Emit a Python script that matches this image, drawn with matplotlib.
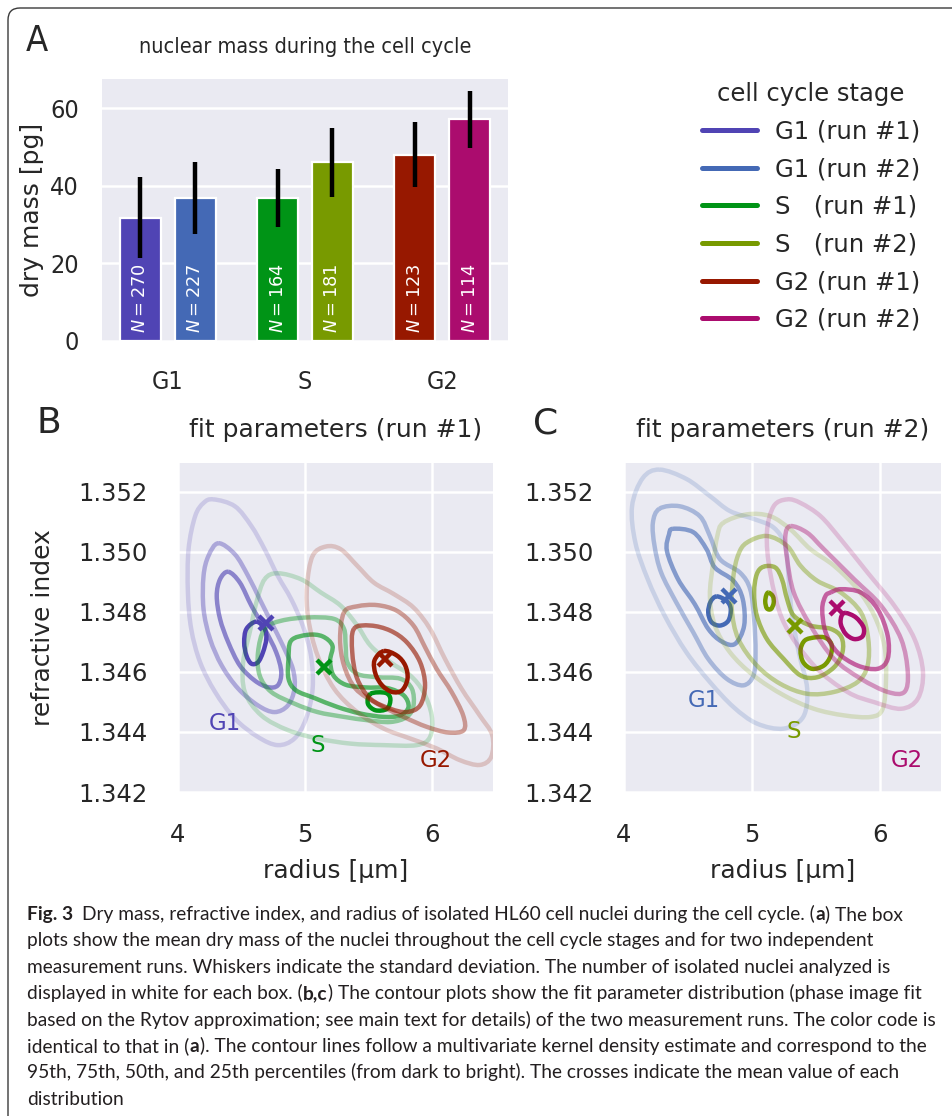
import matplotlib
matplotlib.use('Agg')
import matplotlib.pyplot as plt
import numpy as np
from matplotlib.patches import FancyBboxPatch, PathPatch
from matplotlib.path import Path
from matplotlib.transforms import IdentityTransform
from matplotlib.lines import Line2D
from matplotlib.ticker import FormatStrFormatter
from matplotlib import font_manager

# ---------------- data ----------------
stages = ['G1', 'S', 'G2']
legend_labels = ['G1 (run #1)', 'G1 (run #2)', 'S   (run #1)',
                 'S   (run #2)', 'G2 (run #1)', 'G2 (run #2)']
mass_run1 = [31.8, 36.8, 48.0]
mass_run2 = [36.9, 46.1, 57.1]
sd_run1 = [10.5, 7.5, 8.3]
sd_run2 = [9.3, 8.9, 7.3]
n_run1 = [270, 164, 123]
n_run2 = [227, 181, 114]
colors_run1 = ['#5044b4', '#009416', '#971800']
colors_run2 = ['#4469b5', '#789a00', '#ab0c6e']

mean_radius_run1 = [4.69, 5.15, 5.63]
mean_ri_run1 = [1.34762, 1.34615, 1.34643]
mean_radius_run2 = [4.82, 5.34, 5.67]
mean_ri_run2 = [1.34853, 1.34754, 1.34814]

# contour lines (radius [um], refractive index), level 1 = outermost
run1_G1_lvl1 = [(4.279,1.35174),(4.448,1.35151),(4.578,1.35085),(4.682,1.35008),(4.786,1.34919),(4.891,1.34842),(4.982,1.34754),(5.047,1.34654),(5.060,1.34544),(5.008,1.34444),(4.917,1.34378),(4.786,1.34356),(4.630,1.34383),(4.448,1.34444),(4.292,1.34533),(4.174,1.34632),(4.104,1.34743),(4.078,1.34864),(4.083,1.35008),(4.135,1.35118),(4.201,1.35162)]
run1_G1_lvl2 = [(4.318,1.35028),(4.448,1.34991),(4.552,1.34919),(4.643,1.34842),(4.734,1.34765),(4.826,1.34687),(4.904,1.34610),(4.917,1.34544),(4.865,1.34488),(4.760,1.34466),(4.630,1.34488),(4.474,1.34544),(4.344,1.34621),(4.253,1.34709),(4.201,1.34809),(4.201,1.34919),(4.240,1.34986)]
run1_G1_lvl3 = [(4.396,1.34933),(4.487,1.34897),(4.578,1.34820),(4.682,1.34743),(4.773,1.34665),(4.813,1.34599),(4.786,1.34555),(4.708,1.34549),(4.604,1.34571),(4.487,1.34621),(4.396,1.34698),(4.331,1.34776),(4.305,1.34853),(4.331,1.34908)]
run1_G1_lvl4 = [(4.617,1.34767),(4.682,1.34743),(4.695,1.34709),(4.669,1.34665),(4.630,1.34632),(4.578,1.34627),(4.539,1.34654),(4.521,1.34698),(4.539,1.34743)]

run1_S_lvl1 = [(4.682,1.34908),(4.786,1.34928),(4.969,1.34908),(5.125,1.34864),(5.281,1.34820),(5.411,1.34754),(5.516,1.34687),(5.672,1.34632),(5.828,1.34588),(5.932,1.34533),(5.997,1.34455),(5.984,1.34383),(5.880,1.34356),(5.620,1.34356),(5.359,1.34361),(5.099,1.34378),(4.865,1.34406),(4.656,1.34455),(4.526,1.34533),(4.513,1.34632),(4.565,1.34732),(4.617,1.34831)]
run1_S_lvl2 = [(4.682,1.34743),(4.813,1.34770),(5.021,1.34781),(5.229,1.34776),(5.307,1.34743),(5.320,1.34687),(5.333,1.34632),(5.411,1.34593),(5.568,1.34582),(5.750,1.34577),(5.841,1.34544),(5.854,1.34488),(5.802,1.34450),(5.672,1.34433),(5.490,1.34439),(5.307,1.34450),(5.099,1.34466),(4.917,1.34494),(4.734,1.34533),(4.643,1.34588),(4.630,1.34665)]
run1_S_lvl3 = [(4.891,1.34704),(5.021,1.34723),(5.138,1.34718),(5.216,1.34687),(5.198,1.34638),(5.224,1.34588),(5.320,1.34557),(5.477,1.34548),(5.646,1.34546),(5.776,1.34522),(5.815,1.34483),(5.750,1.34455),(5.620,1.34450),(5.438,1.34461),(5.255,1.34483),(5.073,1.34513),(4.930,1.34538),(4.870,1.34577),(4.870,1.34643)]
run1_S_lvl4 = [(5.516,1.34527),(5.633,1.34530),(5.672,1.34510),(5.646,1.34477),(5.555,1.34472),(5.495,1.34494)]

run1_G2_lvl1 = [(5.060,1.34986),(5.164,1.35017),(5.281,1.35008),(5.411,1.34953),(5.542,1.34897),(5.698,1.34859),(5.854,1.34814),(5.984,1.34743),(6.102,1.34643),(6.232,1.34544),(6.375,1.34455),(6.474,1.34389),(6.466,1.34317),(6.375,1.34290),(6.219,1.34306),(6.036,1.34345),(5.828,1.34378),(5.620,1.34411),(5.411,1.34466),(5.229,1.34544),(5.099,1.34654),(5.026,1.34776),(5.016,1.34886)]
run1_G2_lvl2 = [(5.307,1.34798),(5.411,1.34818),(5.568,1.34822),(5.724,1.34803),(5.854,1.34754),(5.945,1.34682),(6.036,1.34610),(6.154,1.34533),(6.245,1.34455),(6.250,1.34406),(6.128,1.34398),(5.958,1.34417),(5.776,1.34450),(5.568,1.34494),(5.398,1.34544),(5.307,1.34621),(5.276,1.34709)]
run1_G2_lvl3 = [(5.385,1.34743),(5.516,1.34754),(5.672,1.34737),(5.802,1.34698),(5.906,1.34632),(5.945,1.34555),(5.906,1.34488),(5.802,1.34466),(5.672,1.34477),(5.516,1.34510),(5.411,1.34577),(5.372,1.34665)]
run1_G2_lvl4 = [(5.620,1.34669),(5.724,1.34654),(5.789,1.34621),(5.807,1.34577),(5.763,1.34538),(5.685,1.34533),(5.607,1.34555),(5.555,1.34593),(5.547,1.34638)]

run2_G1_lvl1 = [(4.278,1.35273),(4.488,1.35242),(4.672,1.35185),(4.829,1.35135),(5.013,1.35109),(5.171,1.35080),(5.262,1.35019),(5.289,1.34908),(5.315,1.34787),(5.367,1.34665),(5.433,1.34544),(5.402,1.34450),(5.249,1.34411),(5.039,1.34428),(4.856,1.34483),(4.672,1.34566),(4.488,1.34665),(4.318,1.34787),(4.186,1.34908),(4.089,1.35030),(4.063,1.35151),(4.147,1.35245)]
run2_G1_lvl2 = [(4.278,1.35143),(4.436,1.35151),(4.593,1.35118),(4.672,1.35052),(4.751,1.34975),(4.908,1.34930),(4.987,1.34875),(5.018,1.34776),(5.029,1.34665),(5.013,1.34588),(4.934,1.34555),(4.803,1.34577),(4.659,1.34643),(4.541,1.34732),(4.409,1.34831),(4.291,1.34930),(4.239,1.35019),(4.226,1.35096)]
run2_G1_lvl3 = [(4.383,1.35076),(4.541,1.35065),(4.646,1.35008),(4.711,1.34947),(4.856,1.34903),(4.929,1.34842),(4.940,1.34754),(4.869,1.34693),(4.764,1.34701),(4.659,1.34743),(4.554,1.34825),(4.423,1.34908),(4.336,1.35002),(4.352,1.35057)]
run2_G1_lvl4 = [(4.724,1.34851),(4.803,1.34836),(4.835,1.34809),(4.816,1.34770),(4.751,1.34754),(4.685,1.34765),(4.659,1.34798),(4.677,1.34833)]

run2_S_lvl1 = [(4.777,1.35096),(4.961,1.35124),(5.144,1.35118),(5.302,1.35074),(5.459,1.35008),(5.643,1.34953),(5.827,1.34875),(5.958,1.34787),(6.037,1.34687),(6.050,1.34577),(6.024,1.34477),(5.932,1.34450),(5.722,1.34455),(5.486,1.34477),(5.249,1.34522),(5.013,1.34588),(4.829,1.34665),(4.711,1.34754),(4.672,1.34853),(4.698,1.34964),(4.730,1.35052)]
run2_S_lvl2 = [(4.961,1.35030),(5.118,1.35052),(5.276,1.35019),(5.381,1.34953),(5.512,1.34903),(5.696,1.34864),(5.853,1.34798),(5.911,1.34709),(5.906,1.34621),(5.827,1.34566),(5.643,1.34533),(5.433,1.34527),(5.223,1.34560),(5.039,1.34621),(4.895,1.34709),(4.843,1.34809),(4.856,1.34919),(4.895,1.34991)]
run2_S_lvl3 = [(5.092,1.34950),(5.184,1.34947),(5.236,1.34908),(5.276,1.34842),(5.328,1.34787),(5.459,1.34754),(5.617,1.34743),(5.701,1.34715),(5.709,1.34665),(5.643,1.34615),(5.512,1.34582),(5.381,1.34588),(5.249,1.34643),(5.118,1.34709),(5.039,1.34787),(5.018,1.34864),(5.039,1.34925)]
run2_S_lvl4a = [(5.131,1.34864),(5.165,1.34851),(5.171,1.34829),(5.150,1.34809),(5.118,1.34811),(5.105,1.34833),(5.113,1.34855)]
run2_S_lvl4b = [(5.459,1.34712),(5.564,1.34715),(5.622,1.34693),(5.617,1.34654),(5.564,1.34621),(5.472,1.34610),(5.402,1.34632),(5.381,1.34671),(5.407,1.34701)]

run2_G2_lvl1 = [(5.276,1.35174),(5.381,1.35162),(5.538,1.35118),(5.696,1.35041),(5.906,1.34930),(6.115,1.34820),(6.273,1.34709),(6.339,1.34599),(6.299,1.34511),(6.168,1.34477),(5.958,1.34499),(5.748,1.34533),(5.486,1.34621),(5.249,1.34765),(5.144,1.34930),(5.118,1.35063),(5.171,1.35151)]
run2_G2_lvl2 = [(5.302,1.35085),(5.433,1.35063),(5.564,1.35008),(5.801,1.34908),(6.011,1.34820),(6.168,1.34709),(6.220,1.34599),(6.194,1.34533),(6.063,1.34533),(5.853,1.34577),(5.643,1.34643),(5.459,1.34754),(5.328,1.34864),(5.276,1.34975),(5.262,1.35052)]
run2_G2_lvl3 = [(5.617,1.34864),(5.696,1.34875),(5.853,1.34864),(5.984,1.34809),(6.063,1.34720),(6.063,1.34643),(5.984,1.34610),(5.827,1.34621),(5.669,1.34665),(5.577,1.34732),(5.551,1.34809),(5.577,1.34853)]
run2_G2_lvl4 = [(5.735,1.34796),(5.814,1.34781),(5.874,1.34748),(5.866,1.34718),(5.801,1.34709),(5.735,1.34726),(5.696,1.34759),(5.703,1.34787)]

caption_lines = [
    [("Fig. 3", True), ("Dry mass, refractive index, and radius of isolated HL60 cell nuclei during the cell cycle. (", False), ("a", True), (") The box", False)],
    [("plots show the mean dry mass of the nuclei throughout the cell cycle stages and for two independent", False)],
    [("measurement runs. Whiskers indicate the standard deviation. The number of isolated nuclei analyzed is", False)],
    [("displayed in white for each box. (", False), ("b,c", True), (") The contour plots show the fit parameter distribution (phase image fit", False)],
    [("based on the Rytov approximation; see main text for details) of the two measurement runs. The color code is", False)],
    [("identical to that in (", False), ("a", True), ("). The contour lines follow a multivariate kernel density estimate and correspond to the", False)],
    [("95th, 75th, 50th, and 25th percentiles (from dark to bright). The crosses indicate the mean value of each", False)],
    [("distribution", False)],
]

# ---------------- figure ----------------
plt.rcParams['font.family'] = ['DejaVu Sans']
TXT = '#262626'
BG = '#eaeaf2'
W, H = 953, 1116
fig = plt.figure(figsize=(W / 100, H / 100), dpi=100)
fig.patch.set_facecolor('white')

ttf = font_manager.fontManager.ttflist


def condensed_of(name):
    for f in ttf:
        if f.name == name and str(f.stretch) in ('condensed', 'semi-condensed') \
                and f.style == 'normal':
            return str(f.stretch)
    return None


def box(l, t, r, b):
    return [l / W, 1 - b / H, (r - l) / W, (b - t) / H]


def style(ax):
    ax.set_facecolor(BG)
    for s in ax.spines.values():
        s.set_visible(False)
    ax.set_axisbelow(True)


# ----- panel A (horizontal texts are narrow in the reference) -----
A_STRETCH = condensed_of('DejaVu Sans') or 'normal'
axA = fig.add_axes(box(102, 79, 508, 341))
style(axA)
x = np.arange(len(stages))
off, bw = 0.2, 0.3
for xs, means, sds, ns, cols in [(x - off, mass_run1, sd_run1, n_run1, colors_run1),
                                  (x + off, mass_run2, sd_run2, n_run2, colors_run2)]:
    axA.bar(xs, means, width=bw, color=cols, edgecolor='white', linewidth=1.6, zorder=2)
    axA.errorbar(xs, means, yerr=sds, fmt='none', ecolor='black', elinewidth=3.2,
                 capsize=0, zorder=4)
    for xi, n in zip(xs, ns):
        axA.text(xi, 2.0, rf'$N={n}$', rotation=90, ha='center', va='bottom',
                 color='white', fontsize=12.8, zorder=3)
axA.set_xlim(-0.48, 2.48)
axA.set_ylim(0, 67.5)
axA.set_yticks([0, 20, 40, 60])
axA.set_xticks(x)
axA.set_xticklabels(stages)
axA.yaxis.grid(True, color='white', lw=1.8)
axA.xaxis.grid(False)
axA.tick_params(axis='y', length=0, pad=16.5, labelsize=18, labelcolor=TXT)
axA.tick_params(axis='x', length=0, pad=21, labelsize=18, labelcolor=TXT)
for lab in axA.get_xticklabels() + axA.get_yticklabels():
    lab.set_fontstretch(A_STRETCH)
axA.set_ylabel('dry mass [pg]', fontsize=18, color=TXT)
axA.yaxis.set_label_coords(-0.143, 0.5)
axA.set_title('nuclear mass during the cell cycle', fontsize=15.5, color=TXT, pad=19,
              fontstretch=A_STRETCH)

# legend
handles = []
for c1, c2 in zip(colors_run1, colors_run2):
    handles.append(Line2D([0], [0], color=c1, lw=3.6, solid_capstyle='round'))
    handles.append(Line2D([0], [0], color=c2, lw=3.6, solid_capstyle='round'))
leg = fig.legend(handles, legend_labels, loc='upper left',
                 bbox_to_anchor=(702 / W, 1 - 82 / H), frameon=False,
                 fontsize=17.5, title='cell cycle stage', title_fontsize=17.5,
                 handlelength=2.25, handletextpad=0.75, labelspacing=0.56,
                 borderpad=0, borderaxespad=0)
for t in leg.get_texts():
    t.set_color(TXT)
leg.get_title().set_color(TXT)

# ----- panels B and C -----
alphas = [0.2, 0.4, 0.62, 1.0]
cont_run1 = [
    (colors_run1[0], [[run1_G1_lvl1], [run1_G1_lvl2], [run1_G1_lvl3], [run1_G1_lvl4]]),
    (colors_run1[1], [[run1_S_lvl1], [run1_S_lvl2], [run1_S_lvl3], [run1_S_lvl4]]),
    (colors_run1[2], [[run1_G2_lvl1], [run1_G2_lvl2], [run1_G2_lvl3], [run1_G2_lvl4]]),
]
cont_run2 = [
    (colors_run2[0], [[run2_G1_lvl1], [run2_G1_lvl2], [run2_G1_lvl3], [run2_G1_lvl4]]),
    (colors_run2[1], [[run2_S_lvl1], [run2_S_lvl2], [run2_S_lvl3], [run2_S_lvl4a, run2_S_lvl4b]]),
    (colors_run2[2], [[run2_G2_lvl1], [run2_G2_lvl2], [run2_G2_lvl3], [run2_G2_lvl4]]),
]


def smooth_ring_path(ring):
    """Closed smooth path through the read vertices (Catmull-Rom drawn as Bezier)."""
    p = np.asarray(ring, dtype=float)
    n = len(p)
    verts = [p[0]]
    codes = [Path.MOVETO]
    for i in range(n):
        p0, p1, p2, p3 = p[i - 1], p[i], p[(i + 1) % n], p[(i + 2) % n]
        c1 = p1 + (p2 - p0) / 6.0
        c2 = p2 - (p3 - p1) / 6.0
        verts += [c1, c2, p2]
        codes += [Path.CURVE4] * 3
    return Path(np.array(verts), codes)


def contour_panel(ax, conts, mr, mi, cols, label_pos, title):
    style(ax)
    for color, levels in conts:
        for rings, a in zip(levels, alphas):
            for ring in rings:
                ax.add_patch(PathPatch(smooth_ring_path(ring), fill=False, ec=color,
                                       alpha=a, lw=3.2, joinstyle='round', zorder=3))
    for r, i, c in zip(mr, mi, cols):
        ax.plot([r], [i], 'x', ms=9.5, mew=3.2, color=c, zorder=5)
    for (lx, ly), s, c in zip(label_pos, stages, cols):
        ax.text(lx, ly, s, color=c, fontsize=16.5, ha='left', va='center', zorder=6)
    ax.set_xlim(4.0, 6.48)
    ax.set_ylim(1.342, 1.35295)
    ax.set_xticks([4, 5, 6])
    ax.set_yticks([1.342, 1.344, 1.346, 1.348, 1.350, 1.352])
    ax.yaxis.set_major_formatter(FormatStrFormatter('%.3f'))
    ax.grid(True, color='white', lw=1.8)
    ax.tick_params(length=0, pad=22, labelsize=17.5, labelcolor=TXT)
    ax.set_xlabel('radius [µm]', fontsize=18, color=TXT)
    ax.xaxis.set_label_coords(0.5, -0.205)
    ax.set_title(title, fontsize=18, color=TXT, pad=19)


axB = fig.add_axes(box(178, 463, 493, 792))
contour_panel(axB, cont_run1, mean_radius_run1, mean_ri_run1, colors_run1,
              [(4.24, 1.34428), (5.04, 1.34355), (5.90, 1.34305)],
              'fit parameters (run #1)')
axB.set_ylabel('refractive index', fontsize=18, color=TXT)
axB.yaxis.set_label_coords(-0.39, 0.5)

axC = fig.add_axes(box(624, 463, 941, 792))
contour_panel(axC, cont_run2, mean_radius_run2, mean_ri_run2, colors_run2,
              [(4.50, 1.34503), (5.27, 1.34403), (6.09, 1.34305)],
              'fit parameters (run #2)')

# panel letters
fig.text(26 / W, 1 - 41 / H, 'A', fontsize=26, color=TXT, ha='left', va='center',
         fontstretch=A_STRETCH)
for lbl, px, py in [('B', 37, 423), ('C', 533, 423)]:
    fig.text(px / W, 1 - py / H, lbl, fontsize=26, color=TXT, ha='left', va='center')

# frame
frame = FancyBboxPatch((8, -40), 1000, H - 8 + 40,
                       boxstyle='round,pad=0,rounding_size=12',
                       transform=IdentityTransform(), fill=False,
                       ec='#3a3a3a', lw=1.0)
fig.add_artist(frame)

# caption
CAP_FONT = ['Lato', 'DejaVu Sans']
CAP_COL = '#231f20'
renderer = fig.canvas.get_renderer()
TARGET_W = 916
cap_size = 12.0
for _ in range(3):
    probe = fig.text(0, 0, caption_lines[4][0][0], fontsize=cap_size, family=CAP_FONT)
    wprobe = probe.get_window_extent(renderer=renderer).width
    probe.remove()
    cap_size = cap_size * TARGET_W / wprobe

x0 = 27
base0, dy = 920, 26.4
for li, segs in enumerate(caption_lines):
    xpx = x0
    ypx = base0 + li * dy
    for si, (txt, bold) in enumerate(segs):
        t = fig.text(xpx / W, 1 - ypx / H, txt, fontsize=cap_size, family=CAP_FONT,
                     fontweight='bold' if bold else 'normal', color=CAP_COL,
                     ha='left', va='baseline')
        w = t.get_window_extent(renderer=renderer).width
        xpx += w
        if li == 0 and si == 0:
            xpx += 9
        elif txt.endswith('(') or bold:
            xpx += 0.5

fig.savefig('out.png', dpi=100)
